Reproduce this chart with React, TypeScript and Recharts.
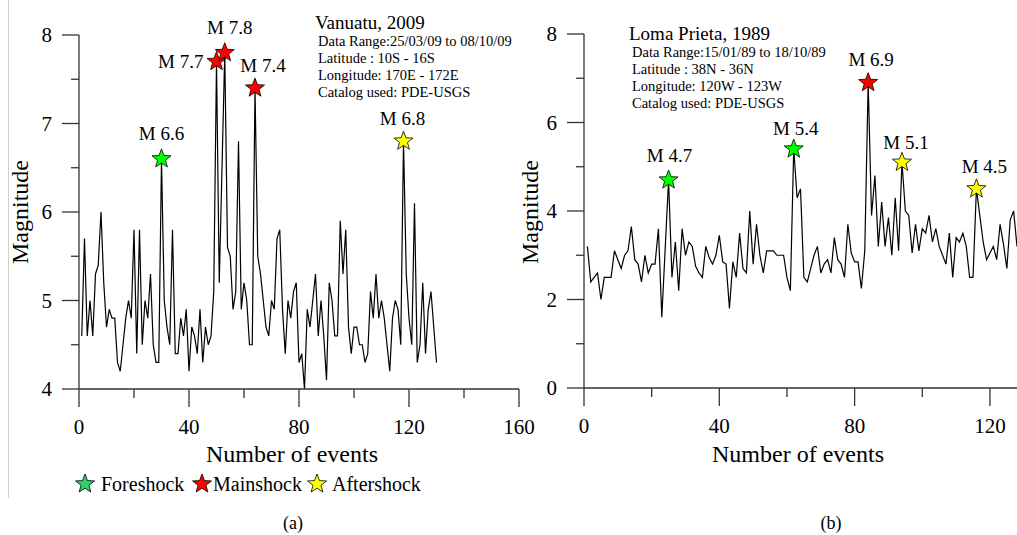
import React from 'react';
import { LineChart, Line, XAxis, YAxis } from 'recharts';

// event magnitudes, event 1..130 (Vanuatu) and 1..128 (Loma Prieta)
const vanuatuMag = [
  4.6, 5.7, 4.6, 5.0, 4.6, 5.3, 5.4, 6.0, 5.2, 4.7,
  4.9, 4.8, 4.8, 4.3, 4.2, 4.5, 4.8, 5.0, 4.8, 5.8,
  4.4, 5.8, 4.5, 5.0, 4.8, 5.3, 4.5, 4.3, 4.3, 6.6,
  5.0, 4.7, 4.5, 5.8, 4.4, 4.4, 4.8, 4.6, 4.9, 4.2,
  4.7, 4.6, 4.4, 4.9, 4.3, 4.7, 4.5, 4.6, 5.1, 7.7,
  5.2, 6.5, 7.8, 5.6, 5.5, 4.9, 5.1, 6.8, 4.9, 5.2,
  5.0, 4.5, 4.5, 7.4, 5.5, 5.3, 5.0, 4.7, 4.6, 5.0,
  4.9, 5.7, 5.8, 4.9, 4.4, 5.0, 4.8, 5.1, 5.2, 4.3,
  4.4, 4.0, 4.9, 4.7, 5.0, 5.3, 4.6, 5.0, 4.6, 4.1,
  5.2, 5.0, 4.6, 4.6, 5.9, 5.3, 5.8, 4.7, 4.4, 4.7,
  4.7, 4.5, 4.5, 4.3, 4.4, 5.1, 4.8, 5.3, 4.8, 5.0,
  4.8, 4.5, 4.2, 4.8, 5.0, 4.9, 4.5, 6.8, 5.3, 4.8,
  4.5, 6.1, 4.3, 4.5, 5.2, 4.4, 4.9, 5.1, 4.7, 4.3,
];

const lomaMag = [
  3.2, 2.4, 2.5, 2.6, 2.0, 2.5, 2.5, 2.5, 3.1, 2.9,
  2.7, 3.0, 3.1, 3.65, 2.9, 2.8, 2.4, 3.0, 2.6, 2.8,
  2.8, 3.6, 1.6, 3.15, 4.7, 2.5, 3.3, 2.2, 3.6, 3.0,
  3.3, 3.2, 2.75, 2.6, 2.5, 3.2, 2.95, 2.8, 3.0, 3.45,
  2.85, 2.8, 1.8, 2.85, 2.5, 3.5, 2.7, 2.6, 4.0, 2.8,
  3.7, 3.0, 2.6, 3.1, 3.1, 3.1, 3.0, 3.0, 3.0, 2.5,
  2.2, 5.4, 4.3, 4.5, 2.5, 2.4, 2.7, 3.0, 3.2, 2.6,
  2.8, 2.9, 2.6, 3.4, 2.9, 2.8, 2.5, 3.7, 3.05, 2.85,
  2.85, 2.25, 3.1, 6.9, 3.9, 4.8, 3.2, 4.2, 3.2, 3.85,
  3.0, 4.3, 3.1, 5.1, 4.0, 3.9, 3.05, 3.7, 3.1, 3.6,
  3.5, 3.9, 3.3, 3.6, 3.2, 3.0, 2.8, 3.5, 2.5, 3.4,
  3.3, 3.5, 3.2, 2.5, 2.5, 4.5, 3.9, 3.3, 2.9, 3.05,
  3.2, 2.9, 3.7, 3.25, 2.7, 3.8, 4.0, 3.2,
];

// marked shocks: event number + kind
const vanuatuMarks = [
  { n: 30, kind: 'fore' },
  { n: 50, kind: 'main' },
  { n: 53, kind: 'main' },
  { n: 64, kind: 'main' },
  { n: 118, kind: 'after' },
];
const lomaMarks = [
  { n: 25, kind: 'fore' },
  { n: 62, kind: 'fore' },
  { n: 84, kind: 'main' },
  { n: 94, kind: 'after' },
  { n: 116, kind: 'after' },
];

const vanuatuXTicks = [0, 20, 40, 60, 80, 100, 120, 140, 160];
const vanuatuXLabels = [0, 40, 80, 120, 160];
const vanuatuYTicks = [4, 4.5, 5, 5.5, 6, 6.5, 7, 7.5, 8];
const vanuatuYLabels = [4, 5, 6, 7, 8];
const lomaXTicks = [0, 20, 40, 60, 80, 100, 120];
const lomaXLabels = [0, 40, 80, 120];
const lomaYTicks = [0, 1, 2, 3, 4, 5, 6, 7, 8];
const lomaYLabels = [0, 2, 4, 6, 8];

const vanuatuInfo = [
  'Data Range:25/03/09 to 08/10/09',
  'Latitude : 10S - 16S',
  'Longitude: 170E - 172E',
  'Catalog used: PDE-USGS',
];
const lomaInfo = [
  'Data Range:15/01/89 to 18/10/89',
  'Latitude : 38N - 36N',
  'Longitude: 120W - 123W',
  'Catalog used: PDE-USGS',
];

// label placement next to each star: [dx, dy, anchor]
const vanuatuLabelAt: Record<number, [number, number, string]> = {
  30: [0, -25, 'middle'],
  50: [-13, 0, 'end'],
  53: [5, -25, 'middle'],
  64: [8, -23, 'middle'],
  118: [-1, -23, 'middle'],
};
const lomaLabelAt: Record<number, [number, number, string]> = {
  25: [1, -25, 'middle'],
  62: [2, -21, 'middle'],
  84: [3, -23, 'middle'],
  94: [4, -20, 'middle'],
  116: [8, -22, 'middle'],
};

const starFill: Record<string, string> = { fore: '#00ff00', main: '#ff0000', after: '#ffff00' };
const SERIF = '"Liberation Serif", "Times New Roman", serif';
const AXIS = '#333';

const vanuatuData = vanuatuMag.map((m, i) => ({ n: i + 1, m }));
const lomaData = lomaMag.map((m, i) => ({ n: i + 1, m }));

function starPath(cx: number, cy: number, R: number, r: number) {
  const pts: string[] = [];
  for (let k = 0; k < 10; k++) {
    const rad = k % 2 === 0 ? R : r;
    const a = -Math.PI / 2 + (k * Math.PI) / 5;
    pts.push(`${(cx + rad * Math.cos(a)).toFixed(2)},${(cy + rad * Math.sin(a)).toFixed(2)}`);
  }
  return `M${pts.join('L')}Z`;
}

function makeDot(marks: any[], labelAt: Record<number, [number, number, string]>) {
  return (props: any) => {
    const { cx, cy, payload, index } = props;
    const mark = marks.find((mk) => mk.n === payload.n);
    if (!mark || cx == null || cy == null) return <g key={`d-${index}`} />;
    const [dx, dy, anchor] = labelAt[mark.n];
    return (
      <g key={`d-${index}`}>
        <path d={starPath(cx, cy, 10, 4.2)} fill={starFill[mark.kind]} stroke="#000" strokeWidth={0.8} />
        <text x={cx + dx} y={cy + dy + 6.5} textAnchor={anchor as any} fontSize={19} fontFamily={SERIF} fill="#000">
          {`M ${payload.m.toFixed(1)}`}
        </text>
      </g>
    );
  };
}

function makeXTick(labels: number[]) {
  return (props: any) => {
    const { x, y, payload } = props;
    const major = labels.includes(payload.value);
    return (
      <g>
        <line x1={x} y1={y} x2={x} y2={y + (major ? 18 : 9)} stroke={AXIS} strokeWidth={1.3} />
        {major && (
          <text x={x} y={y + 45} textAnchor="middle" fontSize={21} fontFamily={SERIF} fill="#000">
            {payload.value}
          </text>
        )}
      </g>
    );
  };
}

function makeYTick(labels: number[]) {
  return (props: any) => {
    const { x, y, payload } = props;
    const major = labels.includes(payload.value);
    return (
      <g>
        <line x1={x - (major ? 17 : 8)} y1={y} x2={x} y2={y} stroke={AXIS} strokeWidth={1.3} />
        {major && (
          <text x={x - 27} y={y + 7} textAnchor="end" fontSize={21} fontFamily={SERIF} fill="#000">
            {payload.value}
          </text>
        )}
      </g>
    );
  };
}

function Legend() {
  const items = [
    { label: 'Foreshock', fill: '#2fcf6a', sx: 85, tx: 101 },
    { label: 'Mainshock', fill: '#ff0000', sx: 202, tx: 213 },
    { label: 'Aftershock', fill: '#ffff00', sx: 317, tx: 332 },
  ];
  return (
    <g>
      {items.map((it) => (
        <g key={it.label}>
          <path d={starPath(it.sx, 484, 10, 4.2)} fill={it.fill} stroke="#000" strokeWidth={0.8} />
          <text x={it.tx} y={491} fontSize={20} fontFamily={SERIF} fill="#000">
            {it.label}
          </text>
        </g>
      ))}
    </g>
  );
}

function InfoBlock({ x, y, title, lines }: { x: number; y: number; title: string; lines: string[] }) {
  return (
    <g fontFamily={SERIF} fill="#000">
      <text x={x} y={y} fontSize={19}>{title}</text>
      {lines.map((l, i) => (
        <text key={l} x={x + 3} y={y + 17 + i * 17} fontSize={14.5}>{l}</text>
      ))}
    </g>
  );
}

export default function App() {
  return (
    <div style={{ position: 'absolute', left: 0, top: 0, width: 1017, height: 535, background: '#fff' }}>
      <div style={{ position: 'absolute', left: 0, top: 0 }}>
        <LineChart width={540} height={535} data={vanuatuData} margin={{ top: 35, right: 21, bottom: 0, left: 0 }}>
          <XAxis
            type="number"
            dataKey="n"
            domain={[0, 160]}
            ticks={vanuatuXTicks}
            interval={0}
            height={146}
            tickSize={0}
            tickMargin={0}
            tick={makeXTick(vanuatuXLabels)}
            axisLine={{ stroke: AXIS, strokeWidth: 1.3 }}
          />
          <YAxis
            type="number"
            domain={[4, 8]}
            ticks={vanuatuYTicks}
            interval={0}
            width={79}
            tickSize={0}
            tickMargin={0}
            tick={makeYTick(vanuatuYLabels)}
            axisLine={{ stroke: AXIS, strokeWidth: 1.3 }}
          />
          <Line
            type="linear"
            dataKey="m"
            stroke="#000"
            strokeWidth={1.2}
            dot={makeDot(vanuatuMarks, vanuatuLabelAt)}
            activeDot={false}
            isAnimationActive={false}
          />
        </LineChart>
      </div>
      <div style={{ position: 'absolute', left: 500, top: 0 }}>
        <LineChart width={517} height={535} data={lomaData} margin={{ top: 34, right: 0, bottom: 0, left: 0 }}>
          <XAxis
            type="number"
            dataKey="n"
            domain={[0, 128]}
            ticks={lomaXTicks}
            interval={0}
            height={147}
            tickSize={0}
            tickMargin={0}
            tick={makeXTick(lomaXLabels)}
            axisLine={{ stroke: AXIS, strokeWidth: 1.3 }}
          />
          <YAxis
            type="number"
            domain={[0, 8]}
            ticks={lomaYTicks}
            interval={0}
            width={84}
            tickSize={0}
            tickMargin={0}
            tick={makeYTick(lomaYLabels)}
            axisLine={{ stroke: AXIS, strokeWidth: 1.3 }}
          />
          <Line
            type="linear"
            dataKey="m"
            stroke="#000"
            strokeWidth={1.2}
            dot={makeDot(lomaMarks, lomaLabelAt)}
            activeDot={false}
            isAnimationActive={false}
          />
        </LineChart>
      </div>
      <svg width={1017} height={535} style={{ position: 'absolute', left: 0, top: 0, pointerEvents: 'none' }}>
        <line x1={8.5} y1={0} x2={8.5} y2={498} stroke="#cfcfcf" strokeWidth={1} />
        <InfoBlock x={315} y={29} title="Vanuatu, 2009" lines={vanuatuInfo} />
        <InfoBlock x={629} y={40} title="Loma Prieta, 1989" lines={lomaInfo} />
        <g fontFamily={SERIF} fontSize={24} fill="#000" textAnchor="middle">
          <text x={292} y={462}>Number of events</text>
          <text x={798} y={462}>Number of events</text>
          <text transform="translate(28 212) rotate(-90)">Magnitude</text>
          <text transform="translate(538 212) rotate(-90)">Magnitude</text>
        </g>
        <Legend />
        <g fontFamily={SERIF} fontSize={18} fill="#000" textAnchor="middle">
          <text x={293} y={529}>(a)</text>
          <text x={831} y={529}>(b)</text>
        </g>
      </svg>
    </div>
  );
}
